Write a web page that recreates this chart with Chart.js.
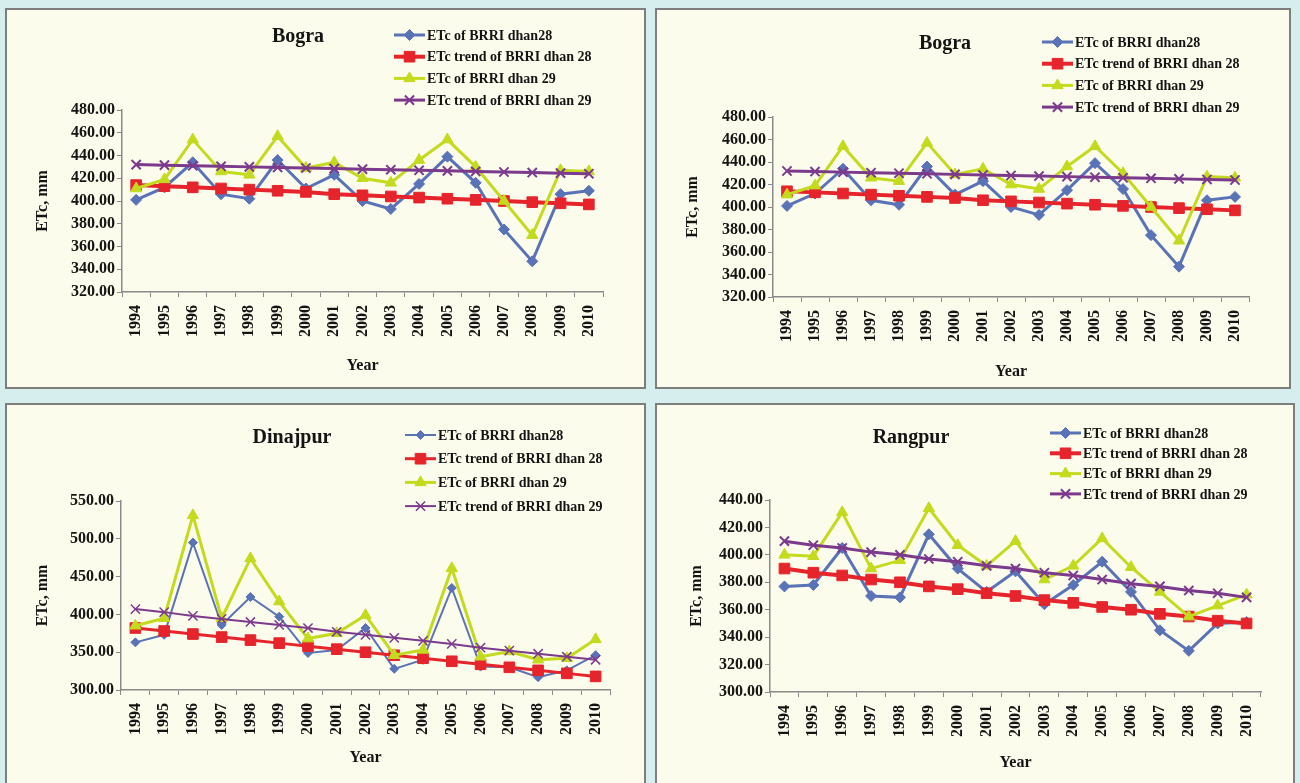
<!DOCTYPE html>
<html>
<head>
<meta charset="utf-8">
<script src="https://cdn.jsdelivr.net/npm/chart.js@4.4.1/dist/chart.umd.min.js"></script>
<style>
  html, body { margin: 0; padding: 0; }
  body { width: 1300px; height: 783px; background: #d6eeee; position: relative; overflow: hidden; }
  .panel { position: absolute; background: #fcfcec; border: 2px solid #7e7e7e; box-sizing: border-box; }
  .panel canvas { position: absolute; left: 0; top: 0; }
</style>
</head>
<body>
<div class="panel" id="p1"><canvas id="c1"></canvas></div>
<div class="panel" id="p2"><canvas id="c2"></canvas></div>
<div class="panel" id="p3"><canvas id="c3"></canvas></div>
<div class="panel" id="p4"><canvas id="c4"></canvas></div>
<script>
// ===== DATA =====
const years = ['1994', '1995', '1996', '1997', '1998', '1999', '2000', '2001', '2002',
  '2003', '2004', '2005', '2006', '2007', '2008', '2009', '2010'];

const seriesNames = ['ETc of BRRI dhan28', 'ETc trend of BRRI dhan 28', 'ETc of BRRI dhan 29', 'ETc trend of BRRI dhan 29'];

// Bogra
const bograDhan28 = [401, 412, 434, 406, 402, 436, 411, 423, 400, 393, 415, 439, 416, 375, 347, 406, 409];
const bograTrend28 = [414, 413, 412, 411, 410, 409, 408, 406, 405, 404, 403, 402, 401, 400, 399, 398, 397];
const bograDhan29 = [411, 419, 454, 426, 423, 457, 429, 434, 420, 416, 436, 454, 430, 400, 370, 427, 426];
const bograTrend29 = [432, 431.5, 431, 430.5, 430, 429.5, 429, 428.5, 428, 427.5, 427, 426.5, 426, 425.5, 425, 424.5, 424];
const bograTicks = [320, 480, 20];

// Dinajpur
const dinajpurDhan28 = [363, 373, 495, 386, 423, 397, 349, 353, 382, 328, 340, 435, 331, 330, 317, 326, 346];
const dinajpurTrend28 = [382, 378, 374, 370, 366, 362, 358, 354, 350, 346, 342, 338, 334, 330, 326, 322, 318];
const dinajpurDhan29 = [385, 395, 531, 395, 474, 417, 368, 375, 399, 346, 353, 461, 344, 351, 340, 342, 367];
const dinajpurTrend29 = [407, 403, 398, 394, 390, 386, 382, 377, 373, 369, 365, 361, 356, 352, 348, 344, 340];
const dinajpurTicks = [300, 550, 50];

// Rangpur
const rangpurDhan28 = [377, 378, 405, 370, 369, 415, 390, 373, 388, 364, 378, 395, 373, 345, 330, 350, 351];
const rangpurTrend28 = [390, 387, 385, 382, 380, 377, 375, 372, 370, 367, 365, 362, 360, 357, 355, 352, 350];
const rangpurDhan29 = [400, 399, 431, 390, 396, 434, 407, 392, 410, 382, 392, 412, 391, 373, 355, 363, 371];
const rangpurTrend29 = [410, 407, 405, 402, 400, 397, 395, 392, 390, 387, 385, 382, 379, 377, 374, 372, 369];
const rangpurTicks = [300, 440, 20];

// ===== STYLE / LAYOUT =====
const FONT = '"Liberation Serif", "Times New Roman", serif';
const BLUE = '#5a72b6';
const RED = '#e6242b';
const YELLOW = '#c4da1e';
const PURPLE = '#7c3a8c';

const panels = [
  { id: 'c1', box: [5, 8, 641, 381], area: [115, 100, 596, 282], title: 'Bogra', titleXY: [291, 27],
    legend: [387, 25, 21.7], yearY: 356, data: [bograDhan28, bograTrend28, bograDhan29, bograTrend29], ticks: bograTicks, thin: false },
  { id: 'c2', box: [655, 8, 636, 381], area: [116, 107, 592, 287], title: 'Bogra', titleXY: [288, 34],
    legend: [385, 32, 21.7], yearY: 362, data: [bograDhan28, bograTrend28, bograDhan29, bograTrend29], ticks: bograTicks, thin: false },
  { id: 'c3', box: [5, 403, 641, 382], area: [114, 96, 603, 285], title: 'Dinajpur', titleXY: [285, 33],
    legend: [398, 30, 23.7], yearY: 353, data: [dinajpurDhan28, dinajpurTrend28, dinajpurDhan29, dinajpurTrend29], ticks: dinajpurTicks, thin: true },
  { id: 'c4', box: [655, 403, 640, 382], area: [113, 95, 604, 287], title: 'Rangpur', titleXY: [254, 33],
    legend: [393, 28, 20.3], yearY: 358, data: [rangpurDhan28, rangpurTrend28, rangpurDhan29, rangpurTrend29], ticks: rangpurTicks, thin: false }
];

// title + vertical legend drawn in the top margin
const panelDecor = {
  id: 'panelDecor',
  afterDraw(chart, args, opts) {
    const ctx = chart.ctx;
    ctx.save();
    ctx.fillStyle = '#141414';
    ctx.font = 'bold 20px ' + FONT;
    ctx.textAlign = 'center';
    ctx.textBaseline = 'middle';
    ctx.fillText(opts.title, opts.titleXY[0], opts.titleXY[1]);

    ctx.font = 'bold 14px ' + FONT;
    ctx.textAlign = 'left';
    const [lx, ly, gap] = opts.legend;
    chart.data.datasets.forEach((ds, i) => {
      const y = ly + i * gap;
      ctx.strokeStyle = ds.borderColor;
      ctx.lineWidth = ds.borderWidth;
      ctx.beginPath();
      ctx.moveTo(lx, y);
      ctx.lineTo(lx + 31, y);
      ctx.stroke();
      ctx.fillStyle = ds.pointBackgroundColor;
      ctx.strokeStyle = ds.pointBorderColor;
      ctx.lineWidth = ds.pointBorderWidth;
      Chart.helpers.drawPoint(ctx, { pointStyle: ds.pointStyle, radius: ds.pointRadius, borderWidth: ds.pointBorderWidth, rotation: 0 }, lx + 15.5, y);
      ctx.fillStyle = '#141414';
      ctx.fillText(ds.label, lx + 33, y + 1);
    });
    ctx.restore();
  }
};

function makeDatasets(p) {
  const thin = p.thin;
  return [
    { label: seriesNames[0], data: p.data[0], borderColor: BLUE, borderWidth: thin ? 2 : 3,
      pointStyle: 'rectRot', pointRadius: thin ? 4.5 : 5.5, pointBackgroundColor: BLUE, pointBorderColor: BLUE, pointBorderWidth: 1, order: 4 },
    { label: seriesNames[1], data: p.data[1], borderColor: RED, borderWidth: thin ? 3 : 4,
      pointStyle: 'rect', pointRadius: 7.5, pointBackgroundColor: RED, pointBorderColor: RED, pointBorderWidth: 1, order: 3 },
    { label: seriesNames[2], data: p.data[2], borderColor: YELLOW, borderWidth: 3,
      pointStyle: 'triangle', pointRadius: 6.5, pointBackgroundColor: YELLOW, pointBorderColor: YELLOW, pointBorderWidth: 1, order: 2 },
    { label: seriesNames[3], data: p.data[3], borderColor: PURPLE, borderWidth: thin ? 2 : 3,
      pointStyle: 'crossRot', pointRadius: 6.5, pointBackgroundColor: PURPLE, pointBorderColor: PURPLE, pointBorderWidth: thin ? 1.5 : 2, order: 1 }
  ];
}

function drawPanel(p) {
  const [bx, by, bw, bh] = p.box;
  const el = document.getElementById(p.id).parentNode;
  el.style.left = bx + 'px';
  el.style.top = by + 'px';
  el.style.width = bw + 'px';
  el.style.height = bh + 'px';
  const cw = bw - 4, ch = bh - 4;
  const canvas = document.getElementById(p.id);
  canvas.width = cw;
  canvas.height = ch;
  canvas.style.width = cw + 'px';
  canvas.style.height = ch + 'px';

  const [aL, aT, aR, aB] = p.area;
  const padL = 8;
  const [yMin, yMax, yStep] = p.ticks;

  new Chart(canvas, {
    type: 'line',
    data: { labels: years, datasets: makeDatasets(p) },
    options: {
      responsive: false,
      animation: false,
      devicePixelRatio: 1,
      layout: { padding: { left: padL, top: aT, right: cw - aR, bottom: 0 } },
      elements: { line: { tension: 0 } },
      plugins: {
        legend: { display: false },
        title: { display: false },
        tooltip: { enabled: false },
        panelDecor: { title: p.title, titleXY: p.titleXY, legend: p.legend }
      },
      scales: {
        x: {
          offset: true,
          afterFit: (s) => { s.height = ch - aB; },
          border: { display: true, color: '#8a8a8a', width: 1.5 },
          grid: { drawOnChartArea: false, drawTicks: true, tickLength: 5, color: '#8a8a8a', offset: true },
          ticks: { autoSkip: false, minRotation: 90, maxRotation: 90, padding: 8, color: '#141414',
            font: { family: FONT, size: 16, weight: 'bold' } },
          title: { display: true, text: 'Year', color: '#141414',
            font: { family: FONT, size: 16, weight: 'bold' },
            padding: { top: 0, bottom: ch - p.yearY - 9.6 } }
        },
        y: {
          min: yMin, max: yMax,
          afterFit: (s) => { s.width = aL - padL; },
          border: { display: true, color: '#8a8a8a', width: 1.5 },
          grid: { drawOnChartArea: false, drawTicks: true, tickLength: 5, color: '#8a8a8a' },
          ticks: { stepSize: yStep, padding: 2, color: '#141414',
            font: { family: FONT, size: 16, weight: 'bold' },
            callback: (v) => Number(v).toFixed(2) },
          title: { display: true, text: 'ETc, mm', color: '#141414',
            font: { family: FONT, size: 16, weight: 'bold' },
            padding: { top: (p.id === 'c4' ? 40 : 36) - padL - 9.6, bottom: 0 } }
        }
      }
    },
    plugins: [panelDecor]
  });
}

panels.forEach(drawPanel);
</script>
</body>
</html>
